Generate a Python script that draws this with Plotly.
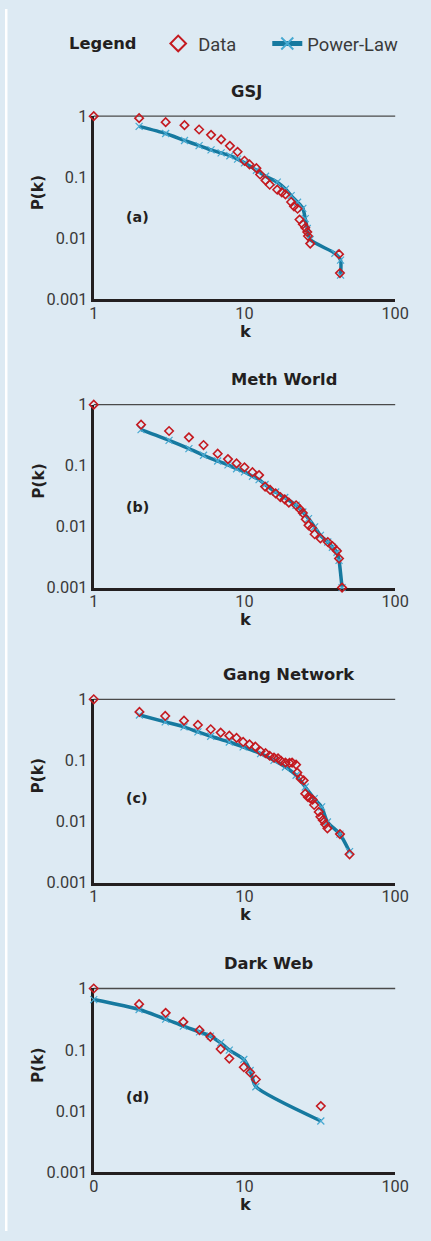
import plotly.graph_objects as go

W, H = 431, 1241
# the photographed page lands in the picture as: picture = O + S * page (measured)
SX, SY = 0.964, 0.985
OX, OY = 3.5, 8.5
FS = 1.02  # small font boost for the shrink

# ---------------- data ----------------
titles = ["GSJ", "Meth World", "Gang Network", "Dark Web"]
tags = ["(a)", "(b)", "(c)", "(d)"]
x_tick_text = [["1", "10", "100"], ["1", "10", "100"], ["1", "10", "100"], ["0", "10", "100"]]
y_tick_vals = [0.001, 0.01, 0.1, 1]
y_tick_text = ["0.001", "0.01", "0.1", "1"]
x_tick_vals = [1, 10, 100]

# (a) GSJ
gsj_k = [1, 2, 3, 4, 5, 6, 7, 8, 9, 10, 10.8, 12, 12.7, 13.8, 14.7, 16.5, 17.7, 18.7, 20.4,
         21.3, 22.5, 23.2, 24.4, 25.3, 26.1, 26.4, 27.3, 42.4, 43.0]
gsj_p = [1, 0.927, 0.798, 0.713, 0.605, 0.495, 0.416, 0.327, 0.261, 0.186, 0.162, 0.141, 0.111,
         0.0888, 0.0754, 0.0625, 0.0565, 0.0524, 0.0393, 0.0334, 0.0305, 0.0203, 0.0170, 0.0149,
         0.0127, 0.0109, 0.0082, 0.0055, 0.0027]
gsj_fit_k = [2, 3, 4, 5, 6, 7, 8, 9, 10, 12, 13.8, 16.5, 18.7, 20.4, 22.5, 24.4, 25.3, 26.1,
             27.3, 39.8, 43.4, 43.4]
gsj_fit_p = [0.68, 0.52, 0.40, 0.33, 0.28, 0.25, 0.225, 0.198, 0.172, 0.13, 0.104, 0.083, 0.064,
             0.050, 0.039, 0.031, 0.021, 0.0145, 0.0095, 0.0057, 0.0044, 0.0025]

# (b) Meth World
meth_k = [1, 2.06, 3.16, 4.28, 5.35, 6.64, 7.77, 8.86, 10.0, 11.3, 12.5, 13.7, 14.8, 16.1, 17.3,
          18.5, 19.7, 22.0, 23.5, 24.4, 25.5, 26.6, 28.0, 29.2, 31.9, 35.7, 38.3, 41.1, 42.4, 44.4]
meth_p = [1, 0.47, 0.37, 0.291, 0.218, 0.157, 0.128, 0.109, 0.094, 0.078, 0.070, 0.0454, 0.040,
          0.035, 0.0306, 0.028, 0.0247, 0.0224, 0.0190, 0.0167, 0.0132, 0.0105, 0.0095, 0.0075,
          0.0064, 0.0056, 0.0048, 0.0040, 0.0030, 0.001]
meth_fit_k = [2.06, 3.16, 4.28, 5.35, 6.64, 7.77, 8.86, 10, 11.3, 12.5, 13.7, 16.1, 18.5, 22,
              24.4, 26.6, 29.2, 31.9, 35.7, 38.3, 41.1, 42.4, 44.4]
meth_fit_p = [0.39, 0.26, 0.19, 0.148, 0.119, 0.103, 0.089, 0.079, 0.067, 0.059, 0.049, 0.037,
              0.030, 0.0224, 0.0174, 0.0135, 0.0099, 0.0072, 0.0056, 0.0046, 0.0038, 0.0028, 0.001]

# (c) Gang Network
gang_k = [1, 2.01, 2.98, 3.97, 4.91, 5.97, 6.95, 7.93, 8.86, 9.80, 10.8, 11.8, 12.8, 13.8, 14.7,
          15.7, 16.7, 17.5, 18.7, 19.9, 20.7, 22.0, 22.4, 23.6, 24.7, 25.3, 26.4, 27.3, 28.3,
          29.0, 31.1, 31.9, 33.1, 34.3, 35.5, 43.0, 49.8]
gang_p = [1, 0.62, 0.533, 0.447, 0.38, 0.323, 0.285, 0.254, 0.233, 0.20, 0.183, 0.168, 0.141,
          0.131, 0.119, 0.111, 0.108, 0.098, 0.092, 0.091, 0.092, 0.085, 0.063, 0.050, 0.047,
          0.0285, 0.025, 0.024, 0.0228, 0.0186, 0.0143, 0.0119, 0.0105, 0.0090, 0.0077, 0.0062,
          0.0029]
gang_fit_k = [2.01, 2.98, 3.97, 4.91, 5.97, 7.93, 9.80, 12.8, 15.7, 18.7, 22.0, 25.3, 29.0, 32.5,
              35.5, 43.0, 49.8]
gang_fit_p = [0.554, 0.426, 0.353, 0.292, 0.248, 0.200, 0.166, 0.129, 0.100, 0.078, 0.057,
              0.0367, 0.0237, 0.0173, 0.0098, 0.0062, 0.0032]

# (d) Dark Web
dark_k = [1, 2.0, 3.0, 3.93, 5.03, 5.94, 6.95, 7.93, 9.9, 10.9, 11.9, 32.1]
dark_p = [1, 0.555, 0.401, 0.286, 0.209, 0.163, 0.103, 0.072, 0.052, 0.0427, 0.0328, 0.0121]
dark_fit_k = [1, 2.0, 3.0, 3.93, 5.03, 5.94, 6.95, 7.93, 9.9, 10.9, 11.9, 32.1]
dark_fit_p = [0.66, 0.455, 0.316, 0.243, 0.196, 0.167, 0.130, 0.099, 0.0695, 0.046, 0.025, 0.0069]

data_k = [gsj_k, meth_k, gang_k, dark_k]
data_p = [gsj_p, meth_p, gang_p, dark_p]
fit_k = [gsj_fit_k, meth_fit_k, gang_fit_k, dark_fit_k]
fit_p = [gsj_fit_p, meth_fit_p, gang_fit_p, dark_fit_p]

# ---------------- layout geometry (picture pixels) ----------------
plot_left, plot_right = 93, 397
plot_tops = [115.7, 404.3, 699.0, 988.3]
plot_bottoms = [299.0, 587.3, 882.3, 1172.3]
title_pos = [(229, 91), (229, 379), (221, 674), (222, 963)]
tag_y = [217, 507, 798, 1097]

BG = "#DDEAF3"
DARK = "#231F20"
TICKC = "#3A3A3A"
RED = "#C41A20"
BLUE = "#16799F"
LIGHTBLUE = "#47A9D1"
BOLD = "DejaVu Sans"
REG = "Roboto"


def fx(p):
    return (p - OX) / (W * SX)


def fy(p):
    return 1 - (p - OY) / (H * SY)


fig = go.Figure()
layout = {}
annotations = [dict(text="Legend", xref="paper", yref="paper", x=fx(66), y=fy(43),
                    xanchor="left", yanchor="middle", showarrow=False,
                    font=dict(family=BOLD, size=16 * FS, color=DARK, weight="bold"))]
shapes = [dict(type="rect", xref="paper", yref="paper", x0=0, x1=max(fx(6), 0.004), y0=0, y1=1,
               fillcolor="white", line=dict(width=0), layer="below")]

for i in range(4):
    n = "" if i == 0 else str(i + 1)
    xa, ya = "x" + n, "y" + n
    fig.add_trace(go.Scatter(
        x=fit_k[i], y=fit_p[i], mode="lines+markers", name="Power-Law",
        line=dict(color=BLUE, width=3.5, shape="spline", smoothing=0.6),
        marker=dict(symbol="x-thin", size=7, color=LIGHTBLUE, line=dict(width=1.2, color=LIGHTBLUE)),
        showlegend=(i == 0), legend="legend2", xaxis=xa, yaxis=ya, cliponaxis=False))
    fig.add_trace(go.Scatter(
        x=data_k[i], y=data_p[i], mode="markers", name="Data",
        marker=dict(symbol="diamond-open", size=6.5, color=RED, line=dict(width=1.6, color=RED)),
        showlegend=(i == 0), legend="legend", xaxis=xa, yaxis=ya, cliponaxis=False))

    layout["xaxis" + n] = dict(
        type="log", range=[0, 2], domain=[fx(plot_left), fx(plot_right)], anchor=ya,
        tickvals=x_tick_vals, ticktext=x_tick_text[i], showline=True, linecolor=DARK,
        linewidth=3, showgrid=False, zeroline=False, ticks="", ticklen=0, layer="below traces",
        tickfont=dict(family=REG, size=16 * FS, color=TICKC), ticklabelstandoff=-3)
    layout["yaxis" + n] = dict(
        type="log", range=[-3, 0], domain=[fy(plot_bottoms[i]), fy(plot_tops[i])], anchor=xa,
        tickvals=y_tick_vals, ticktext=y_tick_text, showline=True, linecolor=DARK,
        linewidth=3, showgrid=False, zeroline=False, ticks="", ticklen=0, layer="below traces",
        tickfont=dict(family=REG, size=16 * FS, color=TICKC), ticklabelstandoff=0)

    shapes.append(dict(type="line", xref=xa + " domain", yref=ya + " domain", x0=0, x1=1,
                       y0=1, y1=1, line=dict(color="#4A4A4A", width=1.3), layer="below"))

    tx, ty = title_pos[i]
    annotations.append(dict(text=titles[i], xref="paper", yref="paper", x=fx(tx), y=fy(ty),
                            xanchor="left", yanchor="middle", showarrow=False,
                            font=dict(family=BOLD, size=16 * FS, color=DARK, weight="bold")))
    annotations.append(dict(text=tags[i], xref="paper", yref="paper", x=fx(137), y=fy(tag_y[i]),
                            xanchor="center", yanchor="middle", showarrow=False,
                            font=dict(family=BOLD, size=14 * FS, color=DARK, weight="bold")))
    h = plot_bottoms[i] - plot_tops[i]
    annotations.append(dict(text="P(k)", xref="paper", yref="paper", x=fx(37),
                            y=fy(plot_tops[i] + 0.42 * h), textangle=-90,
                            xanchor="center", yanchor="middle", showarrow=False,
                            font=dict(family=BOLD, size=15 * FS, color=DARK, weight="bold")))
    annotations.append(dict(text="k", xref="paper", yref="paper", x=fx(247),
                            y=fy(plot_bottoms[i] + 32), xanchor="center", yanchor="middle",
                            showarrow=False,
                            font=dict(family=BOLD, size=16 * FS, color=DARK, weight="bold")))

legend_common = dict(orientation="h", xanchor="left", y=fy(43), yanchor="middle",
                     font=dict(family=REG, size=18 * FS, color=TICKC), bgcolor="rgba(0,0,0,0)",
                     itemsizing="constant", borderwidth=0)

fig.update_layout(
    autosize=True, margin=dict(l=0, r=0, t=0, b=0),
    paper_bgcolor=BG, plot_bgcolor="rgba(0,0,0,0)",
    showlegend=True,
    legend=dict(x=fx(158), **legend_common),
    legend2=dict(x=fx(268), **legend_common),
    annotations=annotations, shapes=shapes, **layout)

fig.write_html(
    "out.html", config={"displayModeBar": False, "responsive": True},
    default_width="100vw", default_height="100vh",
    post_script=("document.body.style.margin='0px';"
                 "document.body.style.overflow='hidden';"
                 "document.body.style.background='" + BG + "';"
                 "document.documentElement.style.background='" + BG + "';"
                 "document.documentElement.style.overflow='hidden';"
                 "window.dispatchEvent(new Event('resize'));"))
